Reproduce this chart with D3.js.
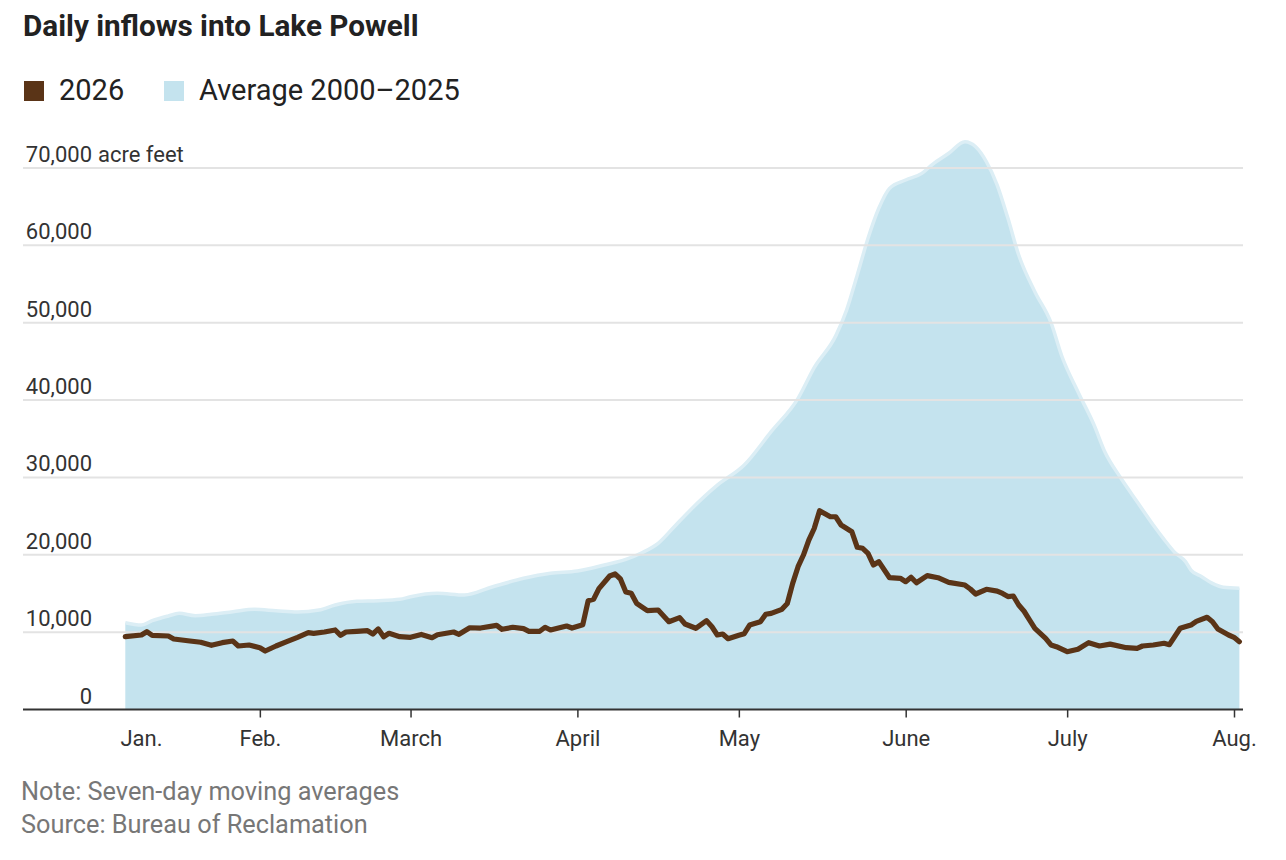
<!DOCTYPE html>
<html>
<head>
<meta charset="utf-8">
<script src="https://cdn.jsdelivr.net/npm/d3@7"></script>
<style>
  html, body { margin: 0; padding: 0; background: #fff; }
  svg { display: block; font-family: Roboto, "Noto Sans", sans-serif; }
</style>
</head>
<body>
<svg id="chart" width="1286" height="860"></svg>
<script>
// ---------- DATA ----------
const title = "Daily inflows into Lake Powell";
const seriesNames = ["2026", "Average 2000\u20132025"];
const noteLines = ["Note: Seven-day moving averages", "Source: Bureau of Reclamation"];
const yTicks = [0, 10000, 20000, 30000, 40000, 50000, 60000, 70000];
const yUnit = "acre feet";
const monthTicks = ["2026-02-01","2026-03-01","2026-04-01","2026-05-01","2026-06-01","2026-07-01","2026-08-01"];
const monthLabels = ["Feb.","March","April","May","June","July","Aug."];
const janLabelDate = "2026-01-10";
const janLabel = "Jan.";

// 2026 seven-day moving average (acre feet)
const dates2026 = ["2026-01-07","2026-01-10","2026-01-11","2026-01-12","2026-01-15","2026-01-16","2026-01-19","2026-01-21","2026-01-23","2026-01-25","2026-01-27","2026-01-28","2026-01-30",
"2026-02-01","2026-02-02","2026-02-04","2026-02-06","2026-02-08","2026-02-10","2026-02-11","2026-02-13","2026-02-15","2026-02-16","2026-02-17","2026-02-19","2026-02-21","2026-02-22","2026-02-23","2026-02-24","2026-02-25","2026-02-27",
"2026-03-01","2026-03-03","2026-03-05","2026-03-06","2026-03-09","2026-03-10","2026-03-12","2026-03-14","2026-03-17","2026-03-18","2026-03-20","2026-03-22","2026-03-23","2026-03-25","2026-03-26","2026-03-27","2026-03-30","2026-03-31",
"2026-04-02","2026-04-03","2026-04-04","2026-04-05","2026-04-07","2026-04-08","2026-04-09","2026-04-10","2026-04-11","2026-04-12","2026-04-14","2026-04-16","2026-04-18","2026-04-20","2026-04-21","2026-04-23","2026-04-25","2026-04-26","2026-04-27","2026-04-28","2026-04-29",
"2026-05-01","2026-05-02","2026-05-03","2026-05-05","2026-05-06","2026-05-07","2026-05-09","2026-05-10","2026-05-11","2026-05-12","2026-05-13","2026-05-14","2026-05-15","2026-05-16","2026-05-18","2026-05-19","2026-05-20","2026-05-22","2026-05-23","2026-05-24","2026-05-25","2026-05-26","2026-05-27","2026-05-29","2026-05-31",
"2026-06-01","2026-06-02","2026-06-03","2026-06-05","2026-06-07","2026-06-09","2026-06-12","2026-06-13","2026-06-14","2026-06-16","2026-06-18","2026-06-19","2026-06-20","2026-06-21","2026-06-22","2026-06-23","2026-06-24","2026-06-25","2026-06-27","2026-06-28","2026-06-29",
"2026-07-01","2026-07-03","2026-07-05","2026-07-07","2026-07-09","2026-07-12","2026-07-14","2026-07-15","2026-07-17","2026-07-19","2026-07-20","2026-07-22","2026-07-24","2026-07-25","2026-07-27","2026-07-28","2026-07-29","2026-07-31",
"2026-08-01","2026-08-02"];
const values2026 = [9410,9630,10060,9590,9500,9110,8850,8690,8300,8640,8850,8210,8340,
7990,7560,8210,8770,9330,9930,9850,10020,10280,9590,10020,10110,10190,9760,10410,9410,9850,9410,
9330,9700,9280,9670,10020,9720,10570,10530,10880,10370,10630,10450,10110,10110,10630,10280,10790,10530,
10960,14060,14240,15620,17260,17520,16870,15190,15020,13730,12770,12860,11350,11870,11050,10500,11480,10700,9630,9760,9150,
9600,9800,10920,11350,12310,12430,12950,13700,16300,18460,19970,21900,23400,25700,24920,24920,23850,22980,20970,20840,20190,18680,19110,17040,16960,
16520,17090,16390,17300,17040,16440,16090,15580,14930,15540,15300,15000,14600,14670,13510,12700,11600,10500,9200,8340,8120,
7470,7780,8640,8210,8450,7990,7910,8210,8340,8560,8380,10500,10920,11400,11920,11350,10400,9630,
9330,8770];

// Average 2000-2025 seven-day moving average (acre feet)
const datesAvg = ["2026-01-07","2026-01-10","2026-01-12","2026-01-15","2026-01-17","2026-01-20","2026-01-23","2026-01-27","2026-01-31",
"2026-02-04","2026-02-08","2026-02-12","2026-02-15","2026-02-19","2026-02-23","2026-02-27",
"2026-03-01","2026-03-06","2026-03-11","2026-03-16","2026-03-22","2026-03-27",
"2026-04-01","2026-04-06","2026-04-10","2026-04-13","2026-04-16","2026-04-19","2026-04-22","2026-04-27",
"2026-05-02","2026-05-07","2026-05-12","2026-05-15","2026-05-19","2026-05-21","2026-05-23","2026-05-25","2026-05-27","2026-05-29",
"2026-06-01","2026-06-04","2026-06-06","2026-06-09","2026-06-12","2026-06-14","2026-06-16","2026-06-18","2026-06-20","2026-06-22","2026-06-25","2026-06-28","2026-06-30",
"2026-07-03","2026-07-06","2026-07-08","2026-07-11","2026-07-14","2026-07-17","2026-07-19","2026-07-21","2026-07-23","2026-07-24","2026-07-26","2026-07-28","2026-07-30",
"2026-08-02"];
const valuesAvg = [11220,10920,11480,12090,12430,12130,12310,12640,12950,
12770,12600,12860,13510,13990,14060,14240,
14580,15020,14800,15800,16960,17610,
17900,18680,19410,20270,21480,23630,25800,29000,
31600,35910,40230,44200,48300,51600,56170,60910,64790,67370,
68450,69310,70480,71900,73400,72750,70810,67800,63490,58750,54010,50000,45700,
41080,36780,33320,29890,26860,23850,22000,20300,19110,18030,17170,16300,15800,
15670];

// ---------- STYLE ----------
const colorLine = "#5a3417";
const colorArea = "#c4e3ee";
const colorAreaEdge = "#dceef5";

const parse = d3.utcParse("%Y-%m-%d");
const line2026 = dates2026.map((d, i) => ({ date: parse(d), value: values2026[i] }));
const lineAvg = datesAvg.map((d, i) => ({ date: parse(d), value: valuesAvg[i] }));

const svg = d3.select("#chart");

const x = d3.scaleUtc()
  .domain([parse("2026-01-01"), parse("2026-08-01")])
  .range([93, 1234]);
const y = d3.scaleLinear().domain([0, 70000]).range([709.5, 168]);

const plotLeft = 23, plotRight = 1243;

// Title
svg.append("text").attr("x", 23).attr("y", 36)
  .attr("font-size", 29.7).attr("font-weight", 700).attr("fill", "#222")
  .text(title);

// Legend
const legend = [
  { x: 24, tx: 59, color: colorLine, label: seriesNames[0] },
  { x: 164, tx: 199, color: colorArea, label: seriesNames[1] }
];
legend.forEach(l => {
  svg.append("rect").attr("x", l.x).attr("y", 81).attr("width", 20).attr("height", 20).attr("fill", l.color);
  svg.append("text").attr("x", l.tx).attr("y", 100).attr("font-size", 29).attr("fill", "#222").text(l.label);
});

// Area
const area = d3.area().x(d => x(d.date)).y0(y(0)).y1(d => y(d.value)).curve(d3.curveMonotoneX);
const areaTop = d3.line().x(d => x(d.date)).y(d => y(d.value)).curve(d3.curveMonotoneX);
svg.append("path").datum(lineAvg).attr("d", area).attr("fill", colorArea);
svg.append("path").datum(lineAvg).attr("d", areaTop).attr("fill", "none")
  .attr("stroke", colorAreaEdge).attr("stroke-width", 3.5);

// Gridlines + y labels
const fmt = d3.format(",");
yTicks.forEach(t => {
  if (t > 0) {
    svg.append("line").attr("x1", plotLeft).attr("x2", plotRight)
      .attr("y1", y(t)).attr("y2", y(t))
      .attr("stroke", "#e3e3e3").attr("stroke-width", 2);
  }
  svg.append("text").attr("x", 92).attr("y", y(t) - 6)
    .attr("text-anchor", "end").attr("font-size", 22).attr("fill", "#333")
    .text(fmt(t));
});
svg.append("text").attr("x", 98).attr("y", y(70000) - 6)
  .attr("font-size", 22).attr("fill", "#333").text(yUnit);

// 2026 line
const ln = d3.line().x(d => x(d.date)).y(d => y(d.value)).curve(d3.curveLinear);
svg.append("path").datum(line2026).attr("d", ln).attr("fill", "none")
  .attr("stroke", colorLine).attr("stroke-width", 5.2)
  .attr("stroke-linejoin", "round").attr("stroke-linecap", "round");

// X axis
const xAxis = d3.axisBottom(x)
  .tickValues(monthTicks.map(parse))
  .tickFormat((d, i) => monthLabels[i])
  .tickSize(8).tickSizeOuter(0);
const gx = svg.append("g").attr("transform", `translate(0,${y(0)})`).call(xAxis);
gx.select(".domain").remove();
gx.selectAll(".tick line").attr("stroke", "#333").attr("stroke-width", 1.5);
gx.selectAll(".tick text").attr("font-size", 22).attr("fill", "#333")
  .attr("font-family", "Roboto, 'Noto Sans', sans-serif").attr("dy", null).attr("y", 36);
svg.append("text").attr("x", x(parse(janLabelDate))).attr("y", y(0) + 36)
  .attr("text-anchor", "middle").attr("font-size", 22).attr("fill", "#333").text(janLabel);
svg.append("line").attr("x1", plotLeft).attr("x2", plotRight)
  .attr("y1", y(0)).attr("y2", y(0)).attr("stroke", "#333").attr("stroke-width", 2);

// Notes
noteLines.forEach((t, i) => {
  svg.append("text").attr("x", 21).attr("y", 800 + i * 33)
    .attr("font-size", 25.3).attr("fill", "#777").text(t);
});
</script>
</body>
</html>
